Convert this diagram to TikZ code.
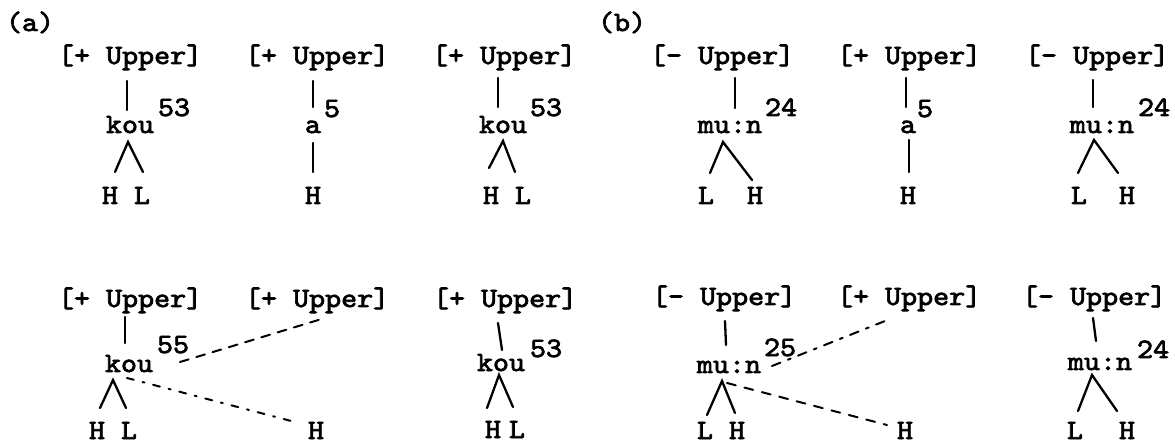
\documentclass[tikz,border=0pt]{standalone}
\usepackage{fontspec}
\newfontfamily\tw{lmmono10-regular.otf}[FakeStretch=1.09,FakeBold=2.5]
\begin{document}
\begin{tikzpicture}[x=1pt,y=-1pt,
  txt/.style={font={\tw\fontsize{28}{32}\selectfont},inner sep=0pt,outer sep=0pt,anchor=base},
  txtw/.style={txt,anchor=base west},
  link/.style={line width=2.3pt,line cap=round},
  dashA/.style={line width=2pt,line cap=round,dash pattern=on 9pt off 8pt},
  dotdashA/.style={line width=2pt,line cap=round,dash pattern=on 7pt off 9pt on 2pt off 9pt},
  dashB/.style={line width=2pt,line cap=round,dash pattern=on 9pt off 8pt on 3pt off 8pt},
  dashC/.style={line width=2pt,line cap=round,dash pattern=on 9pt off 9pt}]
\useasboundingbox (0,0) rectangle (1175,443);
% panel labels
\node[txtw] (labA) at (6,31) {(a)};
\node[txtw] (labB) at (598,31) {(b)};

% ===== (a) top row =====
\node[txtw] (ua1) at (58,64) {[+ Upper]};
\node[txtw] (ua2) at (245,64) {[+ Upper]};
\node[txtw] (ua3) at (432,64) {[+ Upper]};
\node[txt] (ka1) at (130,133) {kou};
\node[txtw] (sa1) at (158,116) {53};
\node[txt] (ka2) at (313,133) {a};
\node[txtw] (sa2) at (324,117) {5};
\node[txt] (ka3) at (503,133) {kou};
\node[txtw] (sa3) at (530,116) {53};
\node[txt] (ha1) at (110,204) {H};
\node[txt] (la1) at (142,204) {L};
\node[txt] (ha2) at (313,204) {H};
\node[txt] (ha3) at (491,204) {H};
\node[txt] (la3) at (523,204) {L};
\coordinate (ta1) at (127,81);  \coordinate (ba1) at (127,110);
\coordinate (pa1) at (128,142); \coordinate (ea1) at (115,172); \coordinate (fa1) at (143,172);
\coordinate (ta2) at (313,81);  \coordinate (ba2) at (313,107);
\coordinate (pa2) at (313,143); \coordinate (ea2) at (313,172);
\coordinate (ta3) at (498,78);  \coordinate (ba3) at (498,107);
\coordinate (pa3) at (503,141); \coordinate (ea3) at (489,168); \coordinate (fa3) at (515,172);
\draw[link] (ta1) -- (ba1);
\draw[link] (ea1) -- (pa1) -- (fa1);
\draw[link] (ta2) -- (ba2);
\draw[link] (pa2) -- (ea2);
\draw[link] (ta3) -- (ba3);
\draw[link] (ea3) -- (pa3) -- (fa3);

% ===== (b) top row =====
\node[txtw] (ub1) at (650,64) {[- Upper]};
\node[txtw] (ub2) at (837,64) {[+ Upper]};
\node[txtw] (ub3) at (1025,64) {[- Upper]};
\node[txt] (kb1) at (730,133) {mu:n};
\node[txtw] (sb1) at (765,116) {24};
\node[txt] (kb2) at (908,133) {a};
\node[txtw] (sb2) at (917,117) {5};
\node[txt] (kb3) at (1102,133) {mu:n};
\node[txtw] (sb3) at (1138,116) {24};
\node[txt] (lb1) at (706,204) {L};
\node[txt] (hb1) at (755,204) {H};
\node[txt] (hb2) at (908,204) {H};
\node[txt] (lb3) at (1079,204) {L};
\node[txt] (hb3) at (1127,204) {H};
\coordinate (tb1) at (735,78);  \coordinate (bb1) at (735,108);
\coordinate (pb1) at (723,142); \coordinate (eb1) at (710,173); \coordinate (fb1) at (752,180);
\coordinate (tb2) at (906,78);  \coordinate (bb2) at (906,107);
\coordinate (pb2) at (909,140); \coordinate (eb2) at (909,172);
\coordinate (tb3) at (1093,80); \coordinate (bb3) at (1093,107);
\coordinate (pb3) at (1094,140); \coordinate (eb3) at (1078,173); \coordinate (fb3) at (1118,173);
\draw[link] (tb1) -- (bb1);
\draw[link] (eb1) -- (pb1) -- (fb1);
\draw[link] (tb2) -- (bb2);
\draw[link] (pb2) -- (eb2);
\draw[link] (tb3) -- (bb3);
\draw[link] (eb3) -- (pb3) -- (fb3);

% ===== (a) bottom row =====
\node[txtw] (va1) at (58,307) {[+ Upper]};
\node[txtw] (va2) at (245,307) {[+ Upper]};
\node[txtw] (va3) at (433,307) {[+ Upper]};
\node[txt] (ma1) at (129,372) {kou};
\node[txtw] (ra1) at (157,353) {55};
\node[txt] (ma3) at (501,371) {kou};
\node[txtw] (ra3) at (530,357) {53};
\node[txt] (ga1) at (97,439) {H};
\node[txt] (ja1) at (129,439) {L};
\node[txt] (ga2) at (316,439) {H};
\node[txt] (ga3) at (493,438) {H};
\node[txt] (ja3) at (517,438) {L};
\coordinate (qa1) at (125,317); \coordinate (wa1) at (125,343);
\coordinate (oa1) at (113,380); \coordinate (xa1) at (100,408); \coordinate (za1) at (126,408);
\coordinate (da1) at (180,362); \coordinate (da2) at (325,318);
\coordinate (na1) at (127,378); \coordinate (na2) at (295,422);
\coordinate (qa3) at (498,323); \coordinate (wa3) at (502,350);
\coordinate (oa3) at (499,375); \coordinate (xa3) at (487,408); \coordinate (za3) at (513,407);
\draw[link] (qa1) -- (wa1);
\draw[link] (xa1) -- (oa1) -- (za1);
\draw[dashA] (da1) -- (da2);
\draw[dotdashA] (na1) -- (na2);
\draw[link] (qa3) -- (wa3);
\draw[link] (xa3) -- (oa3) -- (za3);

% ===== (b) bottom row =====
\node[txtw] (vb1) at (652,305) {[- Upper]};
\node[txtw] (vb2) at (837,305) {[+ Upper]};
\node[txtw] (vb3) at (1022,305) {[- Upper]};
\node[txt] (mb1) at (729,373) {mu:n};
\node[txtw] (rb1) at (764,356) {25};
\node[txt] (mb3) at (1100,370) {mu:n};
\node[txtw] (rb3) at (1137,358) {24};
\node[txt] (jb1) at (705,439) {L};
\node[txt] (gb1) at (737,439) {H};
\node[txt] (gb2) at (905,439) {H};
\node[txt] (jb3) at (1075,439) {L};
\node[txt] (gb3) at (1127,439) {H};
\coordinate (qb1) at (725,321); \coordinate (wb1) at (726,345);
\coordinate (ob1) at (722,381); \coordinate (xb1) at (707,415); \coordinate (zb1) at (735,413);
\coordinate (db1) at (772,366); \coordinate (db2) at (890,319);
\coordinate (nb1) at (727,383); \coordinate (nb2) at (887,425);
\coordinate (qb3) at (1093,318); \coordinate (wb3) at (1096,341);
\coordinate (ob3) at (1092,375); \coordinate (xb3) at (1078,411); \coordinate (zb3) at (1117,411);
\draw[link] (qb1) -- (wb1);
\draw[link] (xb1) -- (ob1) -- (zb1);
\draw[dashB] (db1) -- (db2);
\draw[dashC] (nb1) -- (nb2);
\draw[link] (qb3) -- (wb3);
\draw[link] (xb3) -- (ob3) -- (zb3);
\end{tikzpicture}
\end{document}
